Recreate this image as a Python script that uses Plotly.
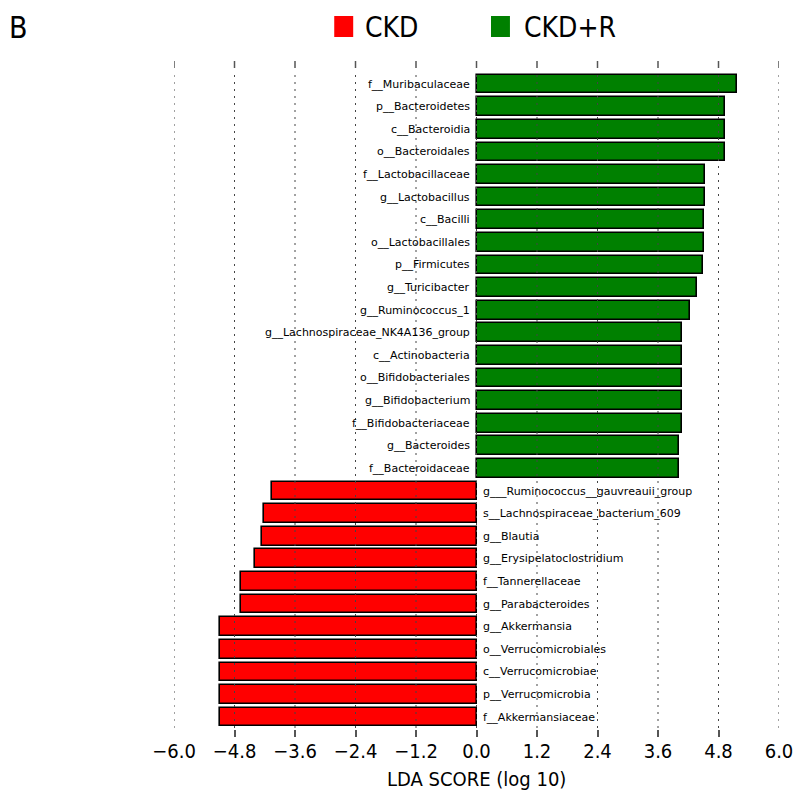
import plotly.graph_objects as go

# ---------------- Data (top to bottom as drawn) ----------------
green_labels = [
    "f__Muribaculaceae", "p__Bacteroidetes", "c__Bacteroidia", "o__Bacteroidales",
    "f__Lactobacillaceae", "g__Lactobacillus", "c__Bacilli", "o__Lactobacillales",
    "p__Firmicutes", "g__Turicibacter", "g__Ruminococcus_1",
    "g__Lachnospiraceae_NK4A136_group", "c__Actinobacteria", "o__Bifidobacteriales",
    "g__Bifidobacterium", "f__Bifidobacteriaceae", "g__Bacteroides", "f__Bacteroidaceae",
]
green_values = [5.16, 4.92, 4.92, 4.92, 4.53, 4.53, 4.52, 4.51, 4.49, 4.37, 4.23,
                4.07, 4.07, 4.07, 4.07, 4.07, 4.01, 4.01]

red_labels = [
    "g___Ruminococcus__gauvreauii_group", "s__Lachnospiraceae_bacterium_609",
    "g__Blautia", "g__Erysipelatoclostridium", "f__Tannerellaceae",
    "g__Parabacteroides", "g__Akkermansia", "o__Verrucomicrobiales",
    "c__Verrucomicrobiae", "p__Verrucomicrobia", "f__Akkermansiaceae",
]
red_values = [-4.05, -4.21, -4.25, -4.39, -4.68, -4.68, -5.08, -5.08, -5.08, -5.08, -5.08]

tick_vals = [-6.0, -4.8, -3.6, -2.4, -1.2, 0.0, 1.2, 2.4, 3.6, 4.8, 6.0]
tick_text = ["\u22126.0", "\u22124.8", "\u22123.6", "\u22122.4", "\u22121.2", "0.0",
             "1.2", "2.4", "3.6", "4.8", "6.0"]

groups = ["CKD", "CKD+R"]
colors = {"CKD": "#ff0000", "CKD+R": "#008000"}
x_title = "LDA SCORE (log 10)"
panel_letter = "B"

# ---------------- Styling / geometry ----------------
BIG = "DejaVu Sans Condensed, DejaVu Sans, sans-serif"
SMALL = "DejaVu Sans, sans-serif"

W, H = 795, 791
PL, PR, PT, PB = 173.5, 779.5, 61, 737   # plot area in window pixels
ml, mr, mt, mb = PL, W - PR, PT, H - PB
pw, ph = PR - PL, PB - PT


def px_x(p):
    return (p - PL) / pw


def px_y(p):
    return (PB - p) / ph


green_y = list(range(len(green_labels)))
red_y = [len(green_labels) + i for i in range(len(red_labels))]
n = len(green_labels) + len(red_labels)

fig = go.Figure()
fig.add_trace(go.Bar(
    x=green_values, y=green_y, orientation="h", width=0.83,
    marker=dict(color=colors["CKD+R"], line=dict(color="black", width=1.6)),
    showlegend=False, hoverinfo="x",
))
fig.add_trace(go.Bar(
    x=red_values, y=red_y, orientation="h", width=0.83,
    marker=dict(color=colors["CKD"], line=dict(color="black", width=1.6)),
    showlegend=False, hoverinfo="x",
))

annotations = []
for lab, yv in zip(green_labels, green_y):
    annotations.append(dict(x=0, y=yv, xref="x", yref="y", text=lab, showarrow=False,
                            xanchor="right", yanchor="middle", xshift=-5,
                            font=dict(family=SMALL, size=11, color="black")))
for lab, yv in zip(red_labels, red_y):
    annotations.append(dict(x=0, y=yv, xref="x", yref="y", text=lab, showarrow=False,
                            xanchor="left", yanchor="middle", xshift=4,
                            font=dict(family=SMALL, size=11, color="black")))

shapes = []
for tv in tick_vals:
    # dotted grid lines, drawn above the bars
    shapes.append(dict(type="line", xref="x", yref="paper", x0=tv, x1=tv,
                       y0=px_y(728), y1=px_y(70), layer="above",
                       line=dict(color="#444444", width=1, dash="2px,5px")))
    # mirrored ticks on top
    shapes.append(dict(type="line", xref="x", yref="paper", x0=tv, x1=tv,
                       y0=px_y(PT + 7), y1=px_y(PT), layer="above",
                       line=dict(color="#555555", width=1.5)))

# legend (coloured squares + labels)
legend_pos = {"CKD": (334, 353, 363), "CKD+R": (491, 510, 522)}
for g in groups:
    x0, x1, tx = legend_pos[g]
    shapes.append(dict(type="rect", xref="paper", yref="paper",
                       x0=px_x(x0), x1=px_x(x1), y0=px_y(37), y1=px_y(16),
                       fillcolor=colors[g], line=dict(width=0), layer="above"))
    annotations.append(dict(x=px_x(tx), y=px_y(27), xref="paper", yref="paper", text=g,
                            showarrow=False, xanchor="left", yanchor="middle",
                            font=dict(family=BIG, size=28, color="black")))

annotations.append(dict(x=px_x(6), y=px_y(28), xref="paper", yref="paper",
                        text=panel_letter, showarrow=False, xanchor="left",
                        yanchor="middle", font=dict(family=BIG, size=30, color="black")))
annotations.append(dict(x=0.5, y=px_y(779), xref="paper", yref="paper",
                        text=x_title, showarrow=False, xanchor="center",
                        yanchor="middle", font=dict(family=BIG, size=20, color="black")))

fig.update_layout(
    width=W, height=H,
    margin=dict(l=ml, r=mr, t=mt, b=mb, autoexpand=False),
    paper_bgcolor="white", plot_bgcolor="white",
    shapes=shapes, annotations=annotations,
    bargap=0, showlegend=False,
)

fig.update_xaxes(
    range=[-6.0, 6.0], tickvals=tick_vals, ticktext=tick_text,
    showgrid=False, zeroline=False, showline=False, automargin=False,
    ticks="inside", ticklen=7, tickwidth=1.5, tickcolor="#555555",
    tickfont=dict(family=BIG, size=20, color="black"),
)
fig.update_yaxes(
    range=[n - 1 + 0.88, -1.02], showticklabels=False, showgrid=False,
    zeroline=False, showline=False, ticks="", automargin=False,
)

# remove the default page margin so the figure sits at the window's top-left corner
fig.write_html(
    "out.html",
    config={"displayModeBar": False},
    post_script="document.body.style.margin='0';document.body.style.overflow='hidden';",
)
